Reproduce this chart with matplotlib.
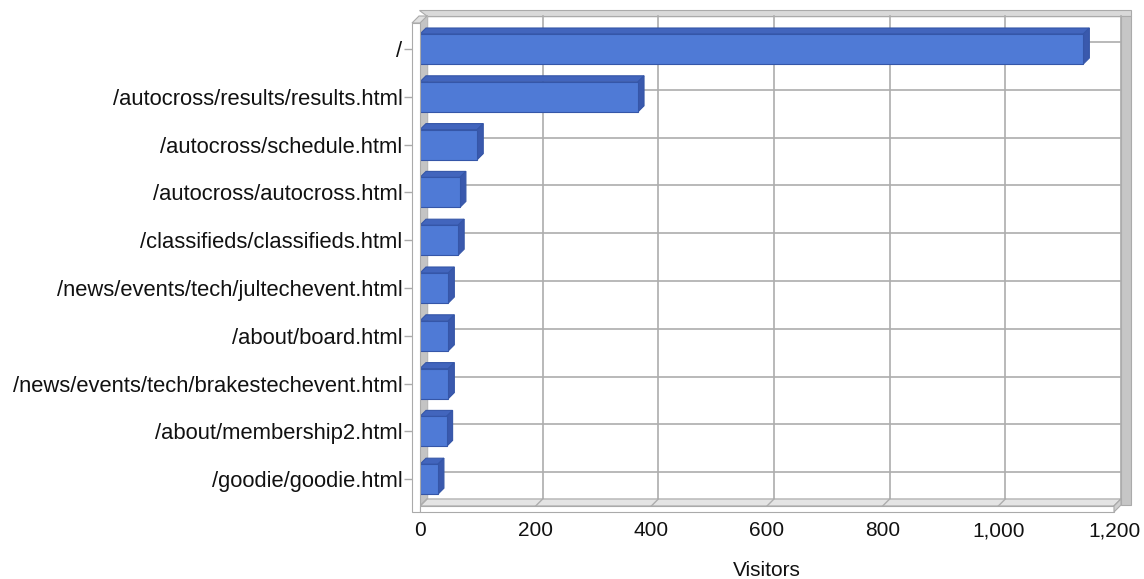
import matplotlib
matplotlib.use("Agg")
import matplotlib.pyplot as plt
from matplotlib.patches import Polygon
import numpy as np

# ---------------- data ----------------
pages = [
    "/",
    "/autocross/results/results.html",
    "/autocross/schedule.html",
    "/autocross/autocross.html",
    "/classifieds/classifieds.html",
    "/news/events/tech/jultechevent.html",
    "/about/board.html",
    "/news/events/tech/brakestechevent.html",
    "/about/membership2.html",
    "/goodie/goodie.html",
]
visitors = [1147, 377, 99, 69, 66, 49, 49, 49, 46, 31]
x_ticks = [0, 200, 400, 600, 800, 1000, 1200]
x_tick_labels = ["0", "200", "400", "600", "800", "1,000", "1,200"]
x_label = "Visitors"

# ---------------- layout / style ----------------
W, H = 1144, 579
AX_L, AX_R, AX_T, AX_B = 420, 1114, 23, 506
Y0, SP = 49, 47.8            # pixel centre of first category, spacing
XMAX = 1200
FONT = "Liberation Sans"
FS = 15
FS_Y = 15.8

FRONT = "#4f7ad6"
TOP = "#4265bd"
SIDE = "#3a59ad"
EDGE = "#3556a8"
GRID = "#adadad"
FRAME = "#aaaaaa"

plt.rcParams["font.family"] = [FONT, "DejaVu Sans"]

fig = plt.figure(figsize=(W / 100, H / 100), dpi=100)
ax = fig.add_axes([AX_L / W, 1 - AX_B / H, (AX_R - AX_L) / W, (AX_B - AX_T) / H])
ax.set_facecolor("none")

n = len(pages)
ypos = np.arange(n)
y_top = -(Y0 - AX_T) / SP
y_bot = (AX_B - Y0) / SP
ax.set_xlim(0, XMAX)
ax.set_ylim(y_bot, y_top)

ux = XMAX / (AX_R - AX_L)    # data units per pixel (x)
uy = 1 / SP                  # data units per pixel (y)
DX, DY = 7 * ux, 7 * uy      # wall depth
BDX, BDY = 6 * ux, 6 * uy    # bar depth
BH = 30 * uy                 # bar height
WT = 8 * ux                  # left wall thickness
FT = 6 * uy                  # floor thickness

def poly(pts, fc, ec=FRAME, lw=0.8, z=1):
    ax.add_patch(Polygon(pts, closed=True, facecolor=fc, edgecolor=ec,
                         linewidth=lw, zorder=z, clip_on=False))

# back wall
poly([(DX, y_top - DY), (XMAX + DX, y_top - DY), (XMAX + DX, y_bot - DY), (DX, y_bot - DY)],
     "white", ec=GRID, lw=1.0, z=0.5)
# top band of back wall
poly([(DX - WT, y_top - DY - 6 * uy), (XMAX + DX + 10 * ux, y_top - DY - 6 * uy),
      (XMAX + DX + 10 * ux, y_top - DY), (DX, y_top - DY)], "#d9d9d9", z=0.6)
# right band of back wall
poly([(XMAX + DX, y_top - DY), (XMAX + DX + 10 * ux, y_top - DY),
      (XMAX + DX + 10 * ux, y_bot - DY + FT), (XMAX + DX, y_bot - DY + FT)], "#c6c6c6", z=0.6)

# gridlines on back wall
for v in x_ticks:
    ax.plot([v + DX, v + DX], [y_bot - DY, y_top - DY], color=GRID, lw=1.2, zorder=0.8,
            clip_on=False)
for c in ypos:
    ax.plot([DX, XMAX + DX], [c - DY, c - DY], color=GRID, lw=1.2, zorder=0.8, clip_on=False)

# left wall inner face
poly([(0, y_top), (DX, y_top - DY), (DX, y_bot - DY), (0, y_bot)], "#c4c4c4", ec="#c4c4c4", z=1)
# floor top face
poly([(0, y_bot), (XMAX, y_bot), (XMAX + DX, y_bot - DY), (DX, y_bot - DY)], "#e4e4e4", z=1)
for v in x_ticks:
    ax.plot([v, v + DX], [y_bot, y_bot - DY], color=GRID, lw=1.0, zorder=1.1, clip_on=False)

# bars
ax.barh(ypos, visitors, height=BH, color=FRONT, edgecolor=EDGE, linewidth=0.8, zorder=3)
for c, v in zip(ypos, visitors):
    t = c - BH / 2
    b = c + BH / 2
    poly([(0, t), (v, t), (v + BDX, t - BDY), (BDX, t - BDY)], TOP, ec=EDGE, z=2.9)
    poly([(v, t), (v + BDX, t - BDY), (v + BDX, b - BDY), (v, b)], SIDE, ec=EDGE, z=2.9)

# left wall front + top faces
poly([(-WT, y_top), (0, y_top), (0, y_bot + FT), (-WT, y_bot + FT)], "white", z=4)
poly([(-WT, y_top), (0, y_top), (DX, y_top - DY), (-WT + DX, y_top - DY)], "#e0e0e0", z=4)
# floor front + right faces
poly([(0, y_bot), (XMAX, y_bot), (XMAX, y_bot + FT), (0, y_bot + FT)], "white", z=4)
poly([(XMAX, y_bot), (XMAX + DX, y_bot - DY), (XMAX + DX, y_bot + FT - DY), (XMAX, y_bot + FT)],
     "#d0d0d0", z=4)

# axes / ticks
for s in ax.spines.values():
    s.set_visible(False)
ax.spines["left"].set_position(("outward", 8 * 0.72))
ax.set_yticks(ypos)
ax.set_yticklabels(pages, fontsize=FS_Y, color="#111111")
ax.tick_params(axis="y", length=8 * 0.72, width=1, color=FRAME, pad=1)
ax.set_xticks(x_ticks)
ax.set_xticklabels(x_tick_labels, fontsize=FS, color="#111111")
ax.tick_params(axis="x", length=0, pad=11)
ax.grid(False)

fig.text((AX_L + AX_R) / 2 / W, 1 - 570 / H, x_label, ha="center", va="center",
         fontsize=FS, color="#111111")

fig.savefig("out.png", dpi=100, facecolor="white")
